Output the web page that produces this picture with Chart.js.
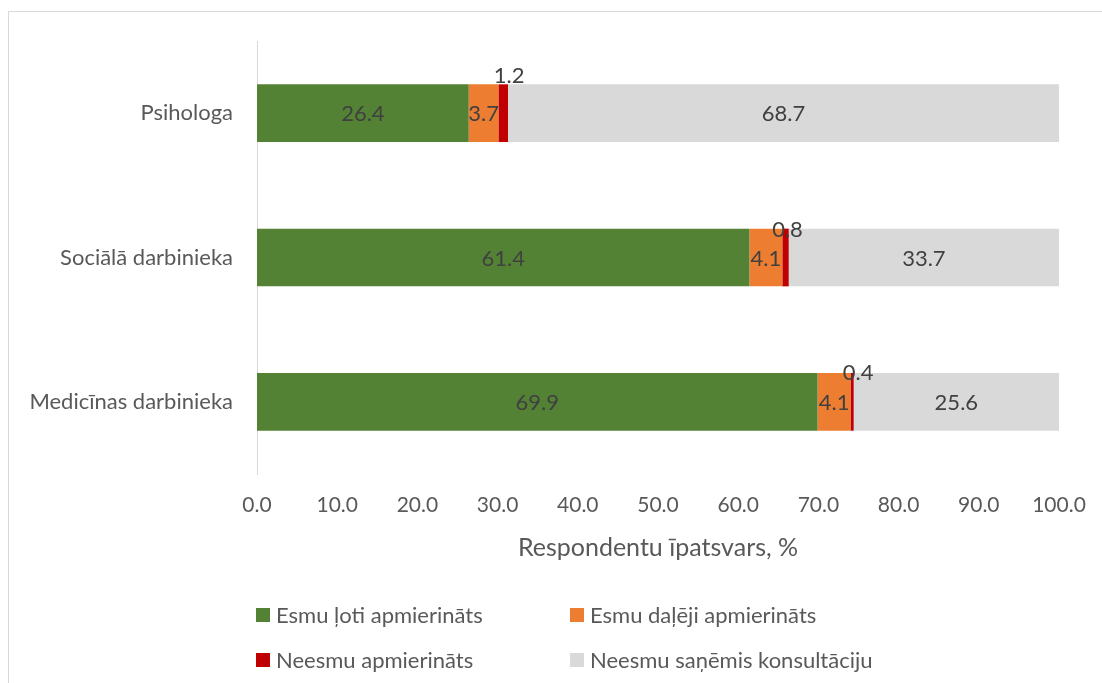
<!DOCTYPE html>
<html>
<head>
<meta charset="utf-8">
<script src="https://cdn.jsdelivr.net/npm/chart.js@4.4.1/dist/chart.umd.min.js"></script>
<style>
  html, body { margin: 0; padding: 0; background: #fff; overflow: hidden; }
  #frame { position: absolute; left: 8px; top: 11px; width: 1200px; height: 800px; border: 1px solid #d9d9d9; }
  #chart { position: absolute; left: 0; top: 0; }
</style>
</head>
<body>
<div id="frame"></div>
<canvas id="chart" width="1102" height="683"></canvas>
<script>
const categories = ['Psihologa', 'Sociālā darbinieka', 'Medicīnas darbinieka'];
const seriesNames = ['Esmu ļoti apmierināts', 'Esmu daļēji apmierināts', 'Neesmu apmierināts', 'Neesmu saņēmis konsultāciju'];
const veryPleased = [26.4, 61.4, 69.9];
const partlyPleased = [3.7, 4.1, 4.1];
const notPleased = [1.2, 0.8, 0.4];
const noConsultation = [68.7, 33.7, 25.6];
const axisTitle = 'Respondentu īpatsvars, %';

const colors = ['#548235', '#ED7D31', '#C00000', '#D9D9D9'];
const FONT = 'Lato, "Open Sans", sans-serif';
const textColor = '#595959';
const labelColor = '#404040';

// labels of the thin red segments sit around the bar top, shifted a bit
const smallShift = [{ dx: 6, dy: -9 }, { dx: 2, dy: 0 }, { dx: 6, dy: -1 }];

const dataLabels = {
  id: 'dataLabels',
  afterDatasetsDraw(chart) {
    const ctx = chart.ctx;
    ctx.save();
    ctx.font = '22px ' + FONT;
    ctx.fillStyle = labelColor;
    ctx.textAlign = 'center';
    ctx.textBaseline = 'middle';
    chart.data.datasets.forEach((ds, di) => {
      const meta = chart.getDatasetMeta(di);
      meta.data.forEach((el, i) => {
        const v = ds.data[i];
        let x = (el.x + el.base) / 2;
        let y = el.y;
        if (di === 2) {
          x += smallShift[i].dx;
          y = el.y - el.height / 2 + smallShift[i].dy;
        }
        ctx.fillText(v.toFixed(1), x, y + 1);
      });
    });
    ctx.restore();
  }
};

const gridLegend = {
  id: 'gridLegend',
  afterDraw(chart) {
    const ctx = chart.ctx;
    const colX = [256, 570];
    const rowY = [615, 660];
    ctx.save();
    ctx.font = '22px ' + FONT;
    ctx.textBaseline = 'middle';
    ctx.textAlign = 'left';
    chart.data.datasets.forEach((ds, i) => {
      const x = colX[i % 2];
      const y = rowY[Math.floor(i / 2)];
      ctx.fillStyle = ds.backgroundColor;
      ctx.fillRect(x, y - 7, 14, 14);
      ctx.fillStyle = textColor;
      ctx.fillText(ds.label, x + 20, y + 1);
    });
    ctx.restore();
  }
};

const series = [veryPleased, partlyPleased, notPleased, noConsultation];

new Chart(document.getElementById('chart'), {
  type: 'bar',
  data: {
    labels: categories,
    datasets: series.map((d, i) => ({
      label: seriesNames[i],
      data: d,
      backgroundColor: colors[i],
      borderWidth: 0,
      barPercentage: 0.4,
      categoryPercentage: 1
    }))
  },
  options: {
    indexAxis: 'y',
    responsive: false,
    animation: false,
    layout: { padding: { left: 0, right: 43, top: 41, bottom: 120 } },
    plugins: {
      legend: { display: false },
      tooltip: { enabled: false }
    },
    scales: {
      x: {
        stacked: true,
        min: 0,
        max: 100,
        ticks: {
          stepSize: 10,
          padding: 19,
          color: textColor,
          font: { family: FONT, size: 21 },
          callback: (v) => Number(v).toFixed(1)
        },
        grid: { display: false, drawTicks: false, tickLength: 0 },
        border: { display: false },
        title: {
          display: true,
          text: axisTitle,
          color: textColor,
          font: { family: FONT, size: 25 },
          padding: { top: 0, bottom: 0 }
        },
        afterFit: (scale) => {
          scale.height = 89;
          scale.paddingLeft = 0;
          scale.paddingRight = 0;
        }
      },
      y: {
        stacked: true,
        ticks: {
          padding: 24,
          color: textColor,
          font: { family: FONT, size: 22 }
        },
        grid: { display: false, drawTicks: false, tickLength: 0 },
        border: { display: true, color: '#d9d9d9', width: 1 },
        afterFit: (scale) => { scale.width = 257; }
      }
    }
  },
  plugins: [dataLabels, gridLegend]
});
</script>
</body>
</html>
